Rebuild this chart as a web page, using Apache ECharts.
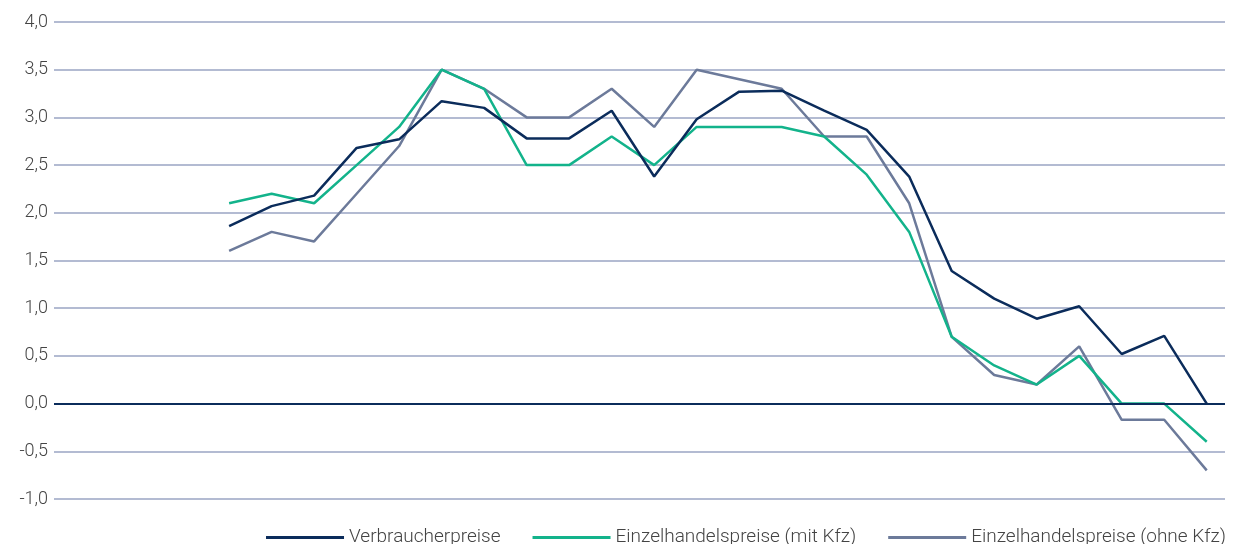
<!DOCTYPE html>
<html>
<head>
<meta charset="utf-8">
<script src="https://cdn.jsdelivr.net/npm/echarts@6/dist/echarts.min.js"></script>
<style>
  html, body { margin: 0; padding: 0; background: #fff; }
  #chart-container { width: 1237px; height: 544px; }
</style>
</head>
<body>
<div id="chart-container"></div>
<script>
var dom = document.getElementById('chart-container');
var myChart = echarts.init(dom, null, { renderer: 'canvas' });

// periods (x axis labels are not shown in the chart)
var periods = ['P1','P2','P3','P4','P5','P6','P7','P8','P9','P10','P11','P12',
  'P13','P14','P15','P16','P17','P18','P19','P20','P21','P22','P23','P24'];

var verbraucherpreise = [1.86, 2.07, 2.18, 2.68, 2.77, 3.17, 3.10, 2.78, 2.78, 3.07, 2.38, 2.98,
  3.27, 3.28, 3.07, 2.87, 2.38, 1.39, 1.10, 0.89, 1.02, 0.52, 0.71, 0.0];
var ehMitKfz = [2.1, 2.2, 2.1, 2.5, 2.9, 3.5, 3.3, 2.5, 2.5, 2.8, 2.5, 2.9,
  2.9, 2.9, 2.8, 2.4, 1.8, 0.7, 0.4, 0.2, 0.5, 0.0, 0.0, -0.4];
var ehOhneKfz = [1.6, 1.8, 1.7, 2.2, 2.7, 3.5, 3.3, 3.0, 3.0, 3.3, 2.9, 3.5,
  3.4, 3.3, 2.8, 2.8, 2.1, 0.7, 0.3, 0.2, 0.6, -0.17, -0.17, -0.7];

var seriesNames = ['Verbraucherpreise', 'Einzelhandelspreise (mit Kfz)', 'Einzelhandelspreise (ohne Kfz)'];
var colors = ['#0b2c5b', '#13b38b', '#6c7a9a'];

function toPoints(arr) {
  return arr.map(function (v, i) { return [i, v]; });
}

var option = {
  backgroundColor: '#fff',
  animation: false,
  color: colors,
  grid: { left: 54, right: 12, top: 22, bottom: 45 },
  legend: {
    bottom: -8,
    right: 6,
    itemWidth: 78,
    itemHeight: 3,
    itemGap: 32,
    icon: 'rect',
    textStyle: { color: '#444', fontSize: 19, fontFamily: 'Roboto', fontWeight: 300 },
    data: seriesNames
  },
  xAxis: {
    type: 'value',
    min: -4.12,
    max: 23.43,
    axisLine: { show: false },
    axisTick: { show: false },
    axisLabel: { show: false },
    splitLine: { show: false }
  },
  yAxis: {
    type: 'value',
    min: -1,
    max: 4,
    interval: 0.5,
    axisLine: { show: false },
    axisTick: { show: false },
    axisLabel: {
      color: '#444',
      fontSize: 18,
      fontFamily: 'Roboto',
      fontWeight: 300,
      margin: 6,
      formatter: function (v) { return v.toFixed(1).replace('.', ','); }
    },
    splitLine: { lineStyle: { color: '#b3bbd2', width: 2 } }
  },
  series: [
    {
      name: seriesNames[0], type: 'line', data: toPoints(verbraucherpreise),
      showSymbol: false, lineStyle: { width: 2.5 }, z: 5,
      markLine: {
        silent: true, symbol: 'none', label: { show: false },
        lineStyle: { color: '#0b2c5b', width: 2, type: 'solid' },
        data: [{ yAxis: 0 }]
      }
    },
    { name: seriesNames[1], type: 'line', data: toPoints(ehMitKfz), showSymbol: false, lineStyle: { width: 2.5 }, z: 4 },
    { name: seriesNames[2], type: 'line', data: toPoints(ehOhneKfz), showSymbol: false, lineStyle: { width: 2.5 }, z: 3 }
  ]
};

myChart.setOption(option);
window.addEventListener('resize', myChart.resize);
</script>
</body>
</html>
